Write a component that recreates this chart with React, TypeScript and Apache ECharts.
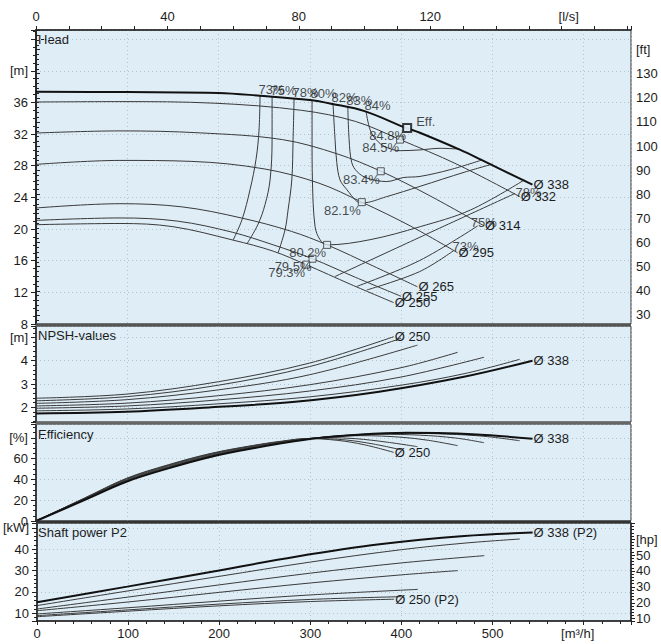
import React, { useEffect, useRef } from 'react';
import * as echarts from 'echarts';

// ---------- data (Q in m³/h) ----------
const diameters = ['338', '332', '314', '295', '265', '255', '250'];

const head338 = [[0, 37.35], [100, 37.3], [200, 37.2], [245, 36.85], [300, 36.3], [325, 35.8], [360, 34.9], [405, 32.8], [420, 32.2], [465, 30.0], [487, 28.8], [544, 25.6]];
const head332 = [[0, 36.05], [92, 36.1], [196, 35.9], [291, 35.0], [350, 33.6], [399, 31.3], [461, 28.2], [530, 24.1]];
const head314 = [[0, 32.13], [92, 32.4], [180, 32.15], [270, 31.3], [330, 29.5], [378, 27.3], [430, 24.3], [491, 20.4]];
const head295 = [[0, 28.17], [92, 28.67], [170, 28.55], [250, 27.6], [310, 25.8], [357, 23.4], [410, 20.4], [462, 17.0]];
const head265 = [[0, 22.66], [92, 23.2], [160, 22.8], [225, 21.4], [280, 19.7], [319, 18.0], [370, 15.3], [418, 12.7]];
const head255 = [[0, 21.09], [92, 21.4], [155, 21.0], [215, 19.6], [260, 18.0], [303, 16.25], [350, 13.9], [400, 11.5]];
const head250 = [[0, 20.55], [92, 20.7], [150, 20.3], [216, 18.6], [260, 17.2], [296, 15.5], [345, 13.0], [392, 10.7]];

const npsh338 = [[0, 1.74], [99, 1.81], [192, 2.0], [284, 2.24], [376, 2.67], [469, 3.31], [544, 4.0]];
const npsh332 = [[0, 1.85], [100, 1.93], [200, 2.15], [300, 2.45], [400, 2.95], [470, 3.45], [530, 4.06]];
const npsh314 = [[0, 1.96], [100, 2.06], [200, 2.32], [300, 2.7], [400, 3.3], [491, 4.15]];
const npsh295 = [[0, 2.06], [100, 2.18], [200, 2.5], [300, 2.97], [400, 3.7], [462, 4.36]];
const npsh265 = [[0, 2.17], [100, 2.33], [200, 2.75], [300, 3.4], [418, 4.67]];
const npsh255 = [[0, 2.28], [100, 2.46], [200, 2.95], [300, 3.75], [400, 4.96]];
const npsh250 = [[0, 2.39], [100, 2.57], [200, 3.1], [300, 3.9], [392, 5.03]];

const eff338 = [[0, 0], [53, 20.2], [99, 37.8], [145, 50.6], [192, 61.8], [238, 69.9], [300, 78.8], [353, 82.9], [407, 84.8], [450, 84.4], [492, 82.8], [544, 79.0]];
const eff332 = [[0, 0], [53, 20.5], [99, 38.3], [145, 51.2], [192, 62.4], [238, 70.4], [300, 79.0], [350, 83.0], [399, 84.5], [450, 83.6], [492, 81.4], [530, 77.2]];
const eff314 = [[0, 0], [53, 20.8], [99, 38.8], [145, 51.8], [192, 62.9], [238, 70.9], [300, 79.2], [340, 82.3], [378, 83.4], [420, 82.6], [460, 79.8], [491, 75.3]];
const eff295 = [[0, 0], [53, 21.1], [99, 39.3], [145, 52.4], [192, 63.5], [238, 71.4], [300, 79.4], [330, 81.5], [357, 82.1], [400, 80.6], [430, 77.6], [462, 72.5]];
const eff265 = [[0, 0], [53, 21.5], [99, 40.0], [145, 53.1], [192, 64.2], [238, 72.0], [280, 77.4], [319, 80.2], [350, 79.2], [385, 75.8], [418, 71.5]];
const eff255 = [[0, 0], [53, 21.8], [99, 40.6], [145, 53.7], [192, 64.7], [238, 72.4], [275, 77.1], [303, 79.5], [340, 77.9], [370, 74.0], [400, 68.5]];
const eff250 = [[0, 0], [53, 22.0], [99, 41.0], [145, 54.1], [192, 65.1], [238, 72.7], [270, 76.9], [296, 79.3], [330, 77.6], [360, 73.3], [392, 66.0]];

const pow338 = [[0, 15.2], [99, 22.5], [192, 29.5], [284, 36.5], [376, 42.3], [469, 46.2], [544, 47.8]];
const pow332 = [[0, 13.6], [100, 20.5], [200, 27.3], [300, 34.0], [400, 39.8], [470, 42.9], [530, 44.8]];
const pow314 = [[0, 12.0], [100, 17.6], [200, 23.3], [300, 28.8], [400, 33.6], [491, 37.0]];
const pow295 = [[0, 11.2], [100, 15.3], [200, 19.8], [300, 24.2], [400, 28.0], [462, 30.0]];
const pow265 = [[0, 9.7], [100, 12.6], [200, 15.7], [300, 18.6], [418, 21.2]];
const pow255 = [[0, 8.9], [100, 11.6], [200, 14.3], [300, 16.5], [400, 17.8]];
const pow250 = [[0, 8.4], [100, 11.0], [200, 13.5], [300, 15.5], [392, 16.6]];

// iso-efficiency lines on the head chart
const isoNames = ['73%', '75%', '78%', '80%', '82%', '83%', '84%'];
const iso73L = [[245.5, 36.85], [244.4, 32.5], [241.1, 28.8], [234.6, 25.0], [225.8, 21.2], [216, 18.6]];
const iso75L = [[258.7, 36.7], [258.7, 31.3], [256.5, 26.2], [251, 23.1], [243.3, 20.6], [231.3, 18.15]];
const iso78L = [[282.8, 36.47], [281.7, 31.3], [280.3, 26.2], [276.2, 22.4], [272.9, 19.9], [265.3, 17.0]];
const iso80 = [[302.5, 36.25], [302.5, 31.3], [302.9, 26.2], [305.8, 20.3], [311.3, 18.65], [319, 18.0], [366, 18.65], [421, 20.3], [476, 22.4], [535, 26.2]];
const iso82 = [[325.5, 35.8], [327.7, 31.3], [329.6, 28.4], [333.2, 26.2], [340.5, 25.0], [351.5, 23.5], [357.3, 23.3], [384.4, 24.1], [420.9, 25.4], [470, 27.2], [500, 28.2]];
const iso83 = [[341.7, 35.4], [343.1, 31.3], [346, 28.4], [351.9, 27.25], [362.5, 26.45], [384.4, 26.0], [402.3, 26.5], [420.9, 26.65], [453.8, 27.5], [488, 28.7]];
const iso84 = [[361.7, 34.85], [366.1, 32.55], [372.7, 31.3], [382.5, 30.4], [399, 29.9], [420.9, 30.0], [442.8, 30.2], [464, 30.1]];
const iso73R = [[362.5, 12.3], [420, 14.6], [458, 17.3]];
const iso75R = [[351.5, 12.75], [420, 16.0], [484, 20.4]];
const iso78R = [[327.7, 14.0], [406.3, 18.2], [525, 24.5]];
const isoRightLabels = [[458, 17.3, '73%'], [478, 20.4, '75%'], [527, 24.2, '78%']];

// best efficiency points
const bepPoints = [[406.7, 32.77, '84.8%'], [399, 31.3, '84.5%'], [377.8, 27.3, '83.4%'], [357, 23.4, '82.1%'], [319, 18.0, '80.2%'], [303, 16.25, '79.5%'], [296, 15.5, '79.3%']];
const dutyPoint = [[406.7, 32.77]];

// ---------- styling helpers ----------
const FONT = 'Liberation Sans, Arial, sans-serif';
const TXT = '#1c1c1c';
const BG = '#deedf6';
const X_MAX = 652;

const labelStyle = { color: TXT, fontSize: 13, fontFamily: FONT };

function curveSeries(data: number[][], xi: number, yi: number, thick: boolean, endText?: string) {
  return {
    type: 'line', xAxisIndex: xi, yAxisIndex: yi, data, smooth: 0.35,
    showSymbol: false, symbol: 'none', silent: true,
    lineStyle: { color: thick ? '#111' : '#3a3a3a', width: thick ? 2 : 1 },
    endLabel: endText ? { show: true, formatter: endText, ...labelStyle, distance: 1 } : { show: false },
    z: thick ? 4 : 3,
  };
}
function isoSeries(data: number[][]) {
  return {
    type: 'line', xAxisIndex: 0, yAxisIndex: 0, data, smooth: 0.35,
    showSymbol: false, symbol: 'none', silent: true,
    lineStyle: { color: '#3a3a3a', width: 1 }, z: 3,
  };
}

function xAxisPlain(gridIndex: number) {
  return {
    type: 'value', gridIndex, min: 0, max: X_MAX, interval: 100,
    axisLine: { show: false }, axisTick: { show: false }, axisLabel: { show: false },
    splitLine: { show: true, lineStyle: { color: '#b4c4ce', type: [1, 3], width: 1 } },
  };
}
const axisLineStyle = { show: true, lineStyle: { color: '#222', width: 1.5 } };
const splitDotted = { show: true, lineStyle: { color: '#b4c4ce', type: [1, 3], width: 1 } };

function buildOption() {
  const headSets = [head338, head332, head314, head295, head265, head255, head250];
  const npshSets = [npsh338, npsh332, npsh314, npsh295, npsh265, npsh255, npsh250];
  const effSets = [eff338, eff332, eff314, eff295, eff265, eff255, eff250];
  const powSets = [pow338, pow332, pow314, pow295, pow265, pow255, pow250];

  const series: any[] = [];
  headSets.forEach((d, i) => series.push(curveSeries(d, 0, 0, i === 0, 'Ø ' + diameters[i])));
  [iso73L, iso75L, iso78L, iso80, iso82, iso83, iso84, iso73R, iso75R, iso78R].forEach(d => series.push(isoSeries(d)));
  const isoTops = [iso73L, iso75L, iso78L, iso80, iso82, iso83, iso84].map((d, i) => [d[0][0], d[0][1], isoNames[i]]);
  series.push({
    type: 'scatter', xAxisIndex: 0, yAxisIndex: 0, data: isoTops, symbolSize: 1, silent: true,
    itemStyle: { color: 'transparent' },
    label: { show: true, formatter: (p: any) => p.data[2], position: [-1, -6], align: 'left', verticalAlign: 'middle', ...labelStyle },
    z: 6,
  });
  series.push({
    type: 'scatter', xAxisIndex: 0, yAxisIndex: 0, data: isoRightLabels, symbolSize: 1, silent: true,
    itemStyle: { color: 'transparent' },
    label: { show: true, formatter: (p: any) => p.data[2], position: [-1, -3], align: 'left', verticalAlign: 'middle', ...labelStyle },
    z: 6,
  });
  series.push({
    type: 'scatter', xAxisIndex: 0, yAxisIndex: 0, data: bepPoints, symbol: 'rect', symbolSize: 7, silent: true,
    itemStyle: { color: BG, borderColor: '#333', borderWidth: 1 },
    label: { show: true, formatter: (p: any) => p.data[2], position: 'left', distance: 0, offset: [3, 8], ...labelStyle },
    z: 7,
  });
  series.push({
    type: 'scatter', xAxisIndex: 0, yAxisIndex: 0, data: dutyPoint, symbol: 'rect', symbolSize: 8, silent: true,
    itemStyle: { color: BG, borderColor: '#111', borderWidth: 2 },
    label: { show: true, formatter: 'Eff.', position: 'right', distance: 4, offset: [0, -6], ...labelStyle },
    z: 8,
  });

  npshSets.forEach((d, i) => series.push(curveSeries(d, 2, 2, i === 0, i === 0 || i === 6 ? 'Ø ' + diameters[i] : undefined)));
  effSets.forEach((d, i) => series.push(curveSeries(d, 3, 3, i === 0, i === 0 || i === 6 ? 'Ø ' + diameters[i] : undefined)));
  powSets.forEach((d, i) => series.push(curveSeries(d, 4, 4, i === 0, i === 0 || i === 6 ? 'Ø ' + diameters[i] + ' (P2)' : undefined)));

  const gridBase = { left: 36, right: 30, show: true, backgroundColor: BG, borderColor: '#333', borderWidth: 1, containLabel: false };

  return {
    animation: false,
    backgroundColor: '#ffffff',
    textStyle: { fontFamily: FONT },
    grid: [
      { ...gridBase, top: 30, height: 294 },
      { ...gridBase, top: 326, height: 96 },
      { ...gridBase, top: 424, height: 97 },
      { ...gridBase, top: 523, height: 98 },
    ],
    xAxis: [
      xAxisPlain(0),
      {
        type: 'value', gridIndex: 0, position: 'top', min: 0, max: X_MAX / 3.6, interval: 10,
        axisLine: axisLineStyle, axisTick: { show: true, length: 4, lineStyle: { color: '#222' } },
        axisLabel: {
          ...labelStyle, margin: 7,
          formatter: (v: number) => (v === 160 ? '{u|[l/s]}' : v % 40 === 0 && v < 160 ? String(v) : ''),
          rich: { u: { ...labelStyle, padding: [0, 0, 0, 14] } },
        },
        splitLine: { show: false },
      },
      xAxisPlain(1),
      xAxisPlain(2),
      {
        type: 'value', gridIndex: 3, min: 0, max: X_MAX, interval: 100,
        axisLine: axisLineStyle, axisTick: { show: true, length: 4, lineStyle: { color: '#222' } },
        minorTick: { show: true, splitNumber: 5, length: 3, lineStyle: { color: '#222' } },
        axisLabel: {
          ...labelStyle, margin: 6,
          formatter: (v: number) => (v === 600 ? '{u|[m³/h]}' : v % 100 === 0 && v < 600 ? String(v) : ''),
          rich: { u: { ...labelStyle, padding: [0, 12, 0, 0] } },
        },
        splitLine: splitDotted,
      },
    ],
    yAxis: [
      {
        type: 'value', gridIndex: 0, position: 'left', min: 8, max: 45.15, interval: 4,
        axisLine: axisLineStyle, axisTick: { show: true, length: 5, lineStyle: { color: '#222' } },
        minorTick: { show: true, splitNumber: 4, length: 3, lineStyle: { color: '#222' } },
        axisLabel: { ...labelStyle, margin: 8, formatter: (v: number) => (v === 40 ? '[m]' : v > 40 ? '' : String(v)) },
        splitLine: splitDotted,
      },
      {
        type: 'value', gridIndex: 0, position: 'right', min: 8 / 0.3048, max: 45.15 / 0.3048, splitNumber: 12,
        axisLine: axisLineStyle, axisTick: { show: true, length: 4, lineStyle: { color: '#222' } },
        minorTick: { show: true, splitNumber: 5, length: 3, lineStyle: { color: '#222' } },
        axisLabel: { ...labelStyle, margin: 5, formatter: (v: number) => (Math.abs(v - 140) < 1e-6 ? '[ft]' : Math.abs(v % 10) < 1e-6 && v >= 30 && v < 140 ? String(v) : '') },
        splitLine: { show: false },
      },
      {
        type: 'value', gridIndex: 1, position: 'left', min: 1.37, max: 5.49, splitNumber: 4,
        axisLine: axisLineStyle, axisTick: { show: true, length: 5, lineStyle: { color: '#222' } },
        minorTick: { show: true, splitNumber: 5, length: 3, lineStyle: { color: '#222' } },
        axisLabel: { ...labelStyle, margin: 8, formatter: (v: number) => (Math.abs(v - 5) < 1e-6 ? '[m]' : Math.abs(v - Math.round(v)) < 1e-6 && v < 5 ? String(Math.round(v)) : '') },
        splitLine: splitDotted,
      },
      {
        type: 'value', gridIndex: 2, position: 'left', min: 0, max: 93.3, interval: 20,
        axisLine: axisLineStyle, axisTick: { show: true, length: 5, lineStyle: { color: '#222' } },
        minorTick: { show: true, splitNumber: 4, length: 3, lineStyle: { color: '#222' } },
        axisLabel: { ...labelStyle, margin: 8, formatter: (v: number) => (v === 80 ? '[%]' : v > 80 ? '' : String(v)) },
        splitLine: splitDotted,
      },
      {
        type: 'value', gridIndex: 3, position: 'left', min: 6.39, max: 52.3, splitNumber: 5,
        axisLine: axisLineStyle, axisTick: { show: true, length: 5, lineStyle: { color: '#222' } },
        minorTick: { show: true, splitNumber: 5, length: 3, lineStyle: { color: '#222' } },
        axisLabel: { ...labelStyle, margin: 8, formatter: (v: number) => (Math.abs(v - 50) < 1e-6 ? '[kW]' : Math.abs(v % 10) < 1e-6 && v < 50 ? String(v) : '') },
        splitLine: splitDotted,
      },
      {
        type: 'value', gridIndex: 3, position: 'right', min: 6.39 / 0.7457, max: 52.3 / 0.7457, splitNumber: 6,
        axisLine: axisLineStyle, axisTick: { show: true, length: 4, lineStyle: { color: '#222' } },
        minorTick: { show: true, splitNumber: 5, length: 3, lineStyle: { color: '#222' } },
        axisLabel: { ...labelStyle, margin: 5, formatter: (v: number) => (Math.abs(v - 60) < 1e-6 ? '[hp]' : Math.abs(v % 10) < 1e-6 && v < 60 ? String(v) : '') },
        splitLine: { show: false },
      },
    ],
    graphic: [
      { type: 'rect', shape: { x: 36, y: 323.5, width: 595, height: 3 }, style: { fill: '#555' }, z: 100 },
      { type: 'rect', shape: { x: 36, y: 421.5, width: 595, height: 3 }, style: { fill: '#666' }, z: 100 },
      { type: 'rect', shape: { x: 36, y: 520.5, width: 595, height: 3 }, style: { fill: '#333' }, z: 100 },
      { type: 'text', left: 38, top: 33, style: { text: 'Head', fill: TXT, font: '13px ' + FONT } },
      { type: 'text', left: 38, top: 329, style: { text: 'NPSH-values', fill: TXT, font: '13px ' + FONT } },
      { type: 'text', left: 38, top: 428, style: { text: 'Efficiency', fill: TXT, font: '13px ' + FONT } },
      { type: 'text', left: 38, top: 526, style: { text: 'Shaft power P2', fill: TXT, font: '13px ' + FONT } },
    ],
    series,
  };
}

export default function App() {
  const ref = useRef<HTMLDivElement>(null);
  useEffect(() => {
    if (!ref.current) return;
    const chart = echarts.init(ref.current, null, { renderer: 'svg' });
    chart.setOption(buildOption() as any);
    return () => chart.dispose();
  }, []);
  return <div ref={ref} style={{ position: 'fixed', left: 0, top: 0, width: 661, height: 644, background: '#fff' }} />;
}
